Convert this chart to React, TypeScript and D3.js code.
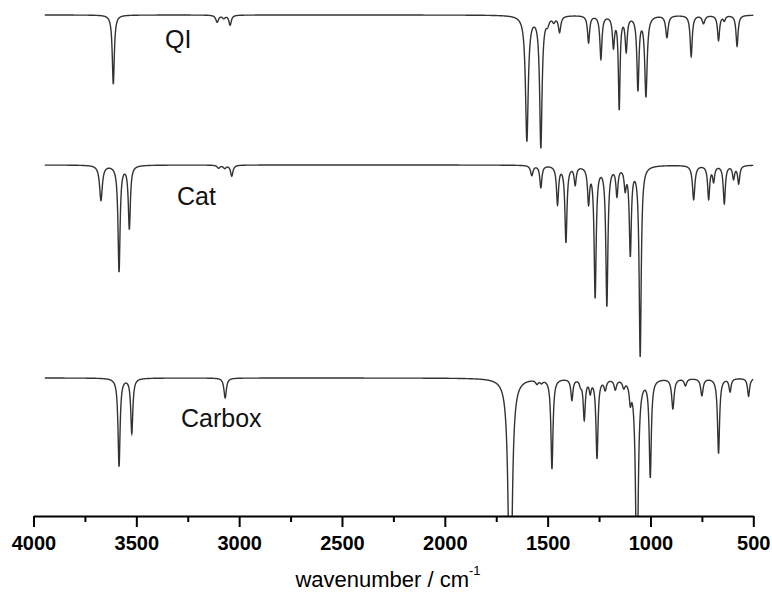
import React, { useRef, useEffect } from 'react'
import * as d3 from 'd3'

// peaks: [wavenumber, depth (px-units), half width (cm-1)]
const qiPeaks = [
  [3612, 69, 6], [3107, 7, 8], [3075, 3, 8], [3044, 10, 7],
  [1601, 125, 8], [1533, 131, 7], [1500, 6, 8], [1470, 5, 8], [1442, 16, 7],
  [1301, 27, 6], [1241, 43, 6], [1180, 30, 6], [1152, 92, 5], [1118, 34, 6],
  [1061, 73, 6], [1022, 80, 7], [920, 22, 7], [802, 41, 6], [742, 8, 8],
  [669, 25, 6], [641, 5, 6], [579, 31, 6]
]
const catPeaks = [
  [3672, 35, 8], [3584, 106, 6], [3534, 63, 6], [3100, 3, 8], [3070, 3, 8], [3036, 11, 7],
  [1577, 10, 7], [1533, 22, 6], [1452, 38, 6], [1411, 76, 6], [1366, 18, 6], [1301, 35, 6],
  [1269, 130, 6], [1212, 139, 6], [1163, 28, 6], [1123, 20, 6], [1098, 87, 6], [1050, 190, 6],
  [790, 34, 7], [717, 33, 6], [693, 15, 6], [641, 38, 6], [596, 13, 6], [571, 18, 6]
]
const carboxPeaks = [
  [3584, 88, 6], [3522, 55, 6], [3068, 20, 7],
  [1682, 300, 9], [1552, 4, 8], [1530, 3, 8], [1479, 90, 6], [1382, 21, 6], [1340, 5, 6],
  [1322, 40, 6], [1293, 12, 6], [1260, 79, 6], [1220, 10, 7], [1171, 10, 7], [1130, 7, 7],
  [1098, 18, 6], [1066, 220, 7], [1001, 97, 6], [891, 30, 7], [830, 7, 7], [750, 17, 7],
  [669, 75, 6], [613, 13, 6], [523, 18, 6]
]

const spectra = [
  { name: 'QI', base: 501, peaks: qiPeaks, lx: 165, ly: 48 },
  { name: 'Cat', base: 351, peaks: catPeaks, lx: 177, ly: 205 },
  { name: 'Carbox', base: 138, peaks: carboxPeaks, lx: 181, ly: 427 }
]

const majorTicks = [4000, 3500, 3000, 2500, 2000, 1500, 1000, 500]
const minorTicks = [3750, 3250, 2750, 2250, 1750, 1250, 750]
const waveStart = 3945
const waveEnd = 500

const font = "'Liberation Sans', Arial, sans-serif"

export default function App() {
  const axisRef = useRef(null)

  const x = d3.scaleLinear().domain([4000, 500]).range([33.5, 753.3])
  const y = d3.scaleLinear().domain([0, 502]).range([516, 14])

  useEffect(() => {
    const g = d3.select(axisRef.current)
    g.selectAll('*').remove()

    g.append('g')
      .call(d3.axisBottom(x).tickValues(minorTicks).tickSize(6).tickSizeOuter(0).tickFormat(() => ''))
      .call(s => s.select('.domain').remove())
      .selectAll('line')
      .attr('stroke', '#000')
      .attr('stroke-width', 2)

    const major = g.append('g')
      .call(d3.axisBottom(x).tickValues(majorTicks).tickSize(11).tickSizeOuter(0).tickPadding(9).tickFormat(d3.format('d')))
    major.select('.domain').attr('stroke', '#000').attr('stroke-width', 2)
    major.selectAll('line').attr('stroke', '#000').attr('stroke-width', 2)
    major.selectAll('text')
      .attr('fill', '#000')
      .style('font-family', font)
      .style('font-size', '20px')
      .style('font-weight', 'bold')
  }, [])

  const line = d3.line<number[]>()
    .x(d => x(d[0]))
    .y(d => y(d[1]))

  const build = (base: number, peaks: number[][]) => {
    const pts: number[][] = []
    for (let w = waveStart; w >= waveEnd; w -= 0.5) {
      let v = base
      peaks.forEach(([c, dep, h]) => {
        v -= dep * h * h / ((w - c) * (w - c) + h * h)
      })
      pts.push([w, v])
    }
    return pts
  }

  return (
    <svg width={772} height={592} style={{ position: 'absolute', left: 0, top: 0, background: '#fff' }}>
      <defs>
        <clipPath id="plot">
          <rect x={0} y={0} width={772} height={516} />
        </clipPath>
      </defs>
      <g clipPath="url(#plot)">
        {spectra.map(s => (
          <path key={s.name} d={line(build(s.base, s.peaks)) || ''} fill="none" stroke="#333" strokeWidth={1.4} />
        ))}
      </g>
      {spectra.map(s => (
        <text key={s.name} x={s.lx} y={s.ly} fontFamily={font} fontSize={25} fill="#111">{s.name}</text>
      ))}
      <g ref={axisRef} transform="translate(0,516)" />
      <text x={388} y={587} textAnchor="middle" fontFamily={font} fontSize={22} fill="#000">
        wavenumber / cm<tspan dy={-12} fontSize={13}>-1</tspan>
      </text>
    </svg>
  )
}
